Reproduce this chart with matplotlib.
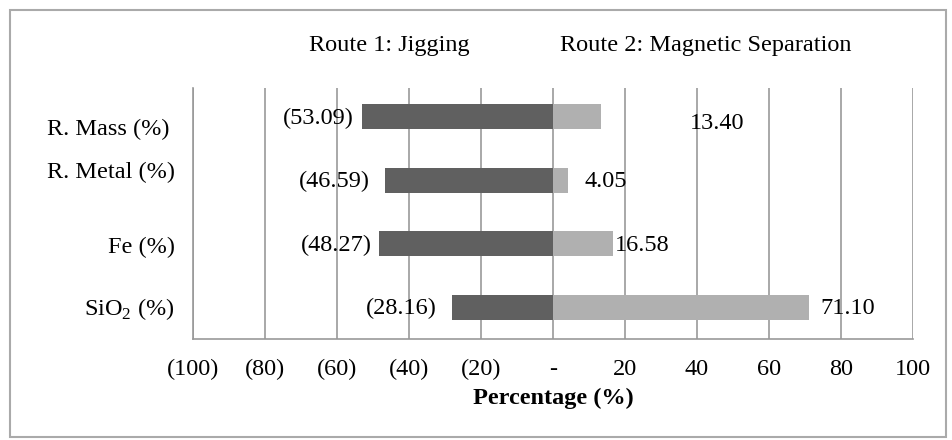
import matplotlib.pyplot as plt
from matplotlib.patches import Rectangle
from matplotlib.transforms import ScaledTranslation

categories = ["R. Mass (%)", "R. Metal (%)", "Fe (%)", "SiO$_2$ (%)"]
jigging = [-53.09, -46.59, -48.27, -28.16]
magnetic = [13.40, 4.05, 16.58, 71.10]
xticks = [-100, -80, -60, -40, -20, 0, 20, 40, 60, 80, 100]
xtick_labels = ["(100)", "(80)", "(60)", "(40)", "(20)", "-", "20", "40", "60", "80", "100"]

plt.rcParams["font.family"] = ["Liberation Serif", "DejaVu Serif"]
plt.rcParams["mathtext.fontset"] = "custom"
plt.rcParams["mathtext.rm"] = "Liberation Serif"
FS = 17.5

fig = plt.figure(figsize=(9.52, 4.4), dpi=100)
ax = fig.add_axes([193 / 952, 1 - 339 / 440, 720 / 952, 251 / 440])

ypos = list(range(len(categories)))
ax.barh(ypos, jigging, height=0.39, color="#606060", zorder=3)
ax.barh(ypos, magnetic, height=0.39, color="#b0b0b0", zorder=3)

ax.set_xlim(-100, 100)
ax.set_ylim(3.5, -0.45)
ax.set_xticks(xticks)
ax.set_xticklabels(xtick_labels, fontsize=FS)
# keep the "(..)" and plain labels on one baseline
for t in ax.get_xticklabels():
    t.set_verticalalignment("center_baseline")
ax.tick_params(axis="x", length=0, pad=20)
ax.set_yticks(ypos)
ax.set_yticklabels(categories, fontsize=FS)
ax.tick_params(axis="y", length=0, pad=13)
ax.grid(axis="x", color="#999999", linewidth=1.2, zorder=0)
for side in ["top", "right"]:
    ax.spines[side].set_visible(False)
for side in ["left", "bottom"]:
    ax.spines[side].set_color("#999999")
    ax.spines[side].set_linewidth(1.2)
ax.set_xlabel("Percentage (%)", fontsize=FS, fontweight="bold", labelpad=6)

# Excel-style data labels, some dragged away from the bar ends
neg_offsets = [(-6, -1), (-11, -1), (-5, -1), (-11, -1)]
pos_offsets = [(64, -5), (12, -1), (1.5, -1), (8, -1)]
for i, (v, off) in enumerate(zip(jigging, neg_offsets)):
    ax.annotate(f"({abs(v):.2f})", (v, i), xytext=off, textcoords="offset points",
                ha="right", va="center", fontsize=FS)
for i, (v, off) in enumerate(zip(magnetic, pos_offsets)):
    ax.annotate(f"{v:.2f}", (v, i), xytext=off, textcoords="offset points",
                ha="left", va="center", fontsize=FS)

# category labels are not centred on their bars
label_shift = [(-4, -7.5), (0, 7.2), (0, -1), (0, 1)]
for lab, (dx, dy) in zip(ax.get_yticklabels(), label_shift):
    lab.set_transform(lab.get_transform() + ScaledTranslation(dx / 72, dy / 72, fig.dpi_scale_trans))

fig.text(389 / 952, 1 - 45 / 440, "Route 1: Jigging", ha="center", va="center", fontsize=FS)
fig.text(706 / 952, 1 - 45 / 440, "Route 2: Magnetic Separation", ha="center", va="center", fontsize=FS)

fig.patches.append(Rectangle((10 / 952, 3 / 440), 936 / 952, 427 / 440, transform=fig.transFigure,
                             fill=False, edgecolor="#aaaaaa", linewidth=1.5))

fig.savefig("out.png", dpi=100)
